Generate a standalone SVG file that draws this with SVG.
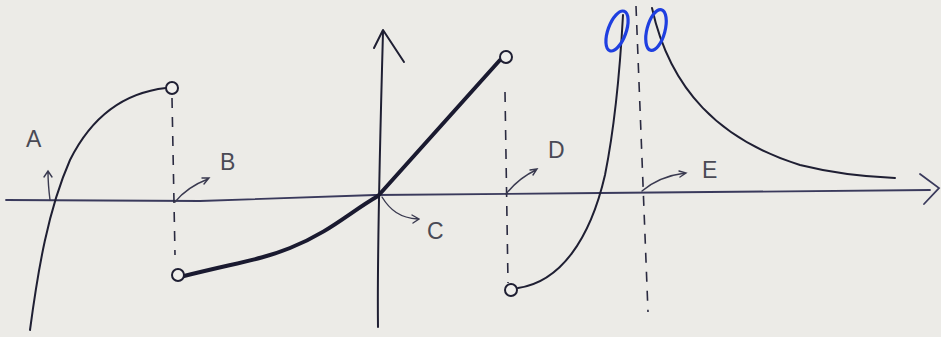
<svg xmlns="http://www.w3.org/2000/svg" width="941" height="337" viewBox="0 0 941 337">
<style>
.ink{fill:none;stroke:#1f1f33;stroke-width:2;stroke-linecap:round;stroke-linejoin:round}
.axis{fill:none;stroke:#3a3a5c;stroke-width:1.8;stroke-linecap:round}
.dash{fill:none;stroke:#2a2a40;stroke-width:1.6;stroke-dasharray:10 9}
.thick{fill:none;stroke:#1a1a30;stroke-width:4;stroke-linecap:round}
.hole{fill:#f0efec;stroke:#1f1f33;stroke-width:2}
.lbl{font-family:"Liberation Sans",Arial,sans-serif;font-size:23px;fill:#4a4a55}
.ptr{fill:none;stroke:#3a3a50;stroke-width:1.4;stroke-linecap:round}
.blue{fill:none;stroke:#1f3fe0;stroke-width:3.2}
</style>
<rect width="941" height="337" fill="#ecebe7"/>
<g id="axes">
<path class="axis" d="M6,200 L200,201 L375,195 L600,193 L930,190"/>
<path class="axis" d="M920,174 L939,188 L924,204"/>
<path class="ink" d="M378,327 C377,250 380,140 383,32"/>
<path class="ink" d="M374,48 L383,30 L404,62"/>
</g>
<g id="asymptotes">
<path class="dash" d="M172,98 L175,255"/>
<path class="dash" d="M505,92 L508,283"/>
<path class="dash" d="M636,6 L648,312"/>
</g>
<g id="curves">
<path class="ink" d="M30,330 C38,270 48,210 70,160 C95,110 130,92 166,88"/>
<circle id="holeA" class="hole" cx="172" cy="88" r="6"/>
<path class="thick" d="M184,276 C240,262 260,260 290,248 C330,232 350,212 378,196"/>
<path class="thick" d="M378,196 L500,60"/>
<circle id="holeB" class="hole" cx="178" cy="275" r="6"/>
<circle id="holeC" class="hole" cx="506" cy="57" r="6" stroke-width="3"/>
<path class="ink" d="M518,288 C560,282 590,240 605,175 C615,125 620,70 623,15"/>
<circle id="holeD" class="hole" cx="511" cy="290" r="6"/>
<path class="ink" d="M652,8 C670,90 720,140 800,165 C840,175 870,177 895,178"/>
</g>
<g id="connectors">
<path class="ptr" d="M50,200 C49,192 48,183 48,172 M44,177 L48,171 L52,177"/>
<path class="ptr" d="M175,202 C183,192 195,184 208,179 M202,178 L209,178 L204,184"/>
<path class="ptr" d="M382,197 C390,210 400,218 418,219 M412,215 L419,219 L413,223"/>
<path class="ptr" d="M506,194 C514,184 523,176 536,170 M530,170 L537,169 L533,175"/>
<path class="ptr" d="M642,191 C655,180 670,175 685,173 M679,171 L686,173 L680,177"/>
</g>
<g id="labels">
<text class="lbl" x="26" y="147">A</text>
<text class="lbl" x="220" y="170">B</text>
<text class="lbl" x="427" y="239">C</text>
<text class="lbl" x="548" y="158">D</text>
<text class="lbl" x="702" y="178">E</text>
</g>
<g id="marks">
<ellipse class="blue" cx="617" cy="31" rx="9" ry="21" transform="rotate(20 617 31)"/>
<ellipse class="blue" cx="656" cy="30" rx="9" ry="21" transform="rotate(15 656 30)"/>
</g>
</svg>
